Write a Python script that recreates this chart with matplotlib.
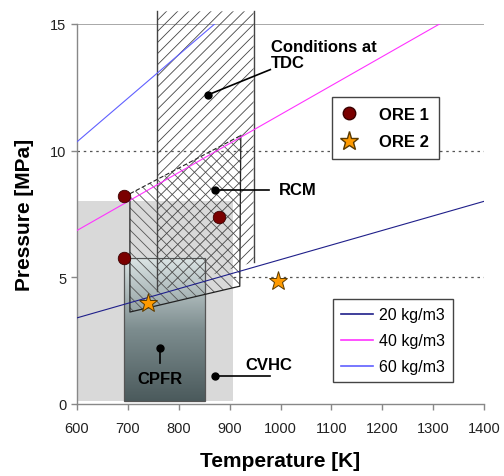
import numpy as np
import matplotlib
matplotlib.use("Agg")
import matplotlib.pyplot as plt
from matplotlib.patches import Polygon, Rectangle
from matplotlib.colors import LinearSegmentedColormap
from matplotlib.lines import Line2D

plt.rcParams['font.family'] = ['Liberation Sans', 'DejaVu Sans']
plt.rcParams['hatch.linewidth'] = 0.6

# density lines (ideal gas, pressure vs temperature)
line_T = [600, 1400]
p_20 = [3.4, 8.0]
p_40 = [6.85, 16.0]
p_60 = [10.35, 24.1]
line_labels = ['20 kg/m3', '40 kg/m3', '60 kg/m3']

# experimental points
ore1_T = [692, 692, 879]
ore1_P = [8.2, 5.75, 7.4]
ore2_T = [739, 995]
ore2_P = [4.0, 4.85]

# facility regions
cvhc_T = [600, 906]
cvhc_P = [0.1, 8.0]
cpfr_T = [692, 851]
cpfr_P = [0.1, 5.75]
rcm_T = [704, 922, 920, 704]
rcm_P = [8.3, 10.6, 4.65, 3.63]
tdc_T = [758, 947, 947, 758]
tdc_P = [15.5, 15.5, 5.6, 4.45]

fig = plt.figure(figsize=(5.04, 4.77), dpi=100)
ax = fig.add_axes([77 / 504, 72 / 477, 407 / 504, 380 / 477])

# CVHC: light gray box
ax.add_patch(Rectangle((cvhc_T[0], cvhc_P[0]), cvhc_T[1] - cvhc_T[0], cvhc_P[1] - cvhc_P[0],
                       facecolor='#d9d9d9', edgecolor='none', zorder=1))

# CPFR: gradient box
cmap = LinearSegmentedColormap.from_list('cpfr', ['#4b5a5c', '#7d8d8f', '#dde6e6'])
grad = np.linspace(0, 1, 256).reshape(-1, 1)
ax.imshow(grad, extent=[cpfr_T[0], cpfr_T[1], cpfr_P[0], cpfr_P[1]], origin='lower',
          cmap=cmap, aspect='auto', zorder=2)
ax.add_patch(Rectangle((cpfr_T[0], cpfr_P[0]), cpfr_T[1] - cpfr_T[0], cpfr_P[1] - cpfr_P[0],
                       facecolor='none', edgecolor='#555555', lw=0.9, zorder=2.1))

# RCM: back-hatched quadrilateral
ax.add_patch(Polygon(list(zip(rcm_T, rcm_P)), closed=True, facecolor='none',
                     edgecolor='#555555', hatch='\\\\\\', lw=0, zorder=3))
ax.plot(rcm_T[:2], rcm_P[:2], color='#222222', lw=0.8, ls=(0, (4, 2)), zorder=3.1)
ax.plot(rcm_T[1:] + rcm_T[:1], rcm_P[1:] + rcm_P[:1], color='#222222', lw=0.9, zorder=3.1)

# conditions at TDC: hatched band
ax.add_patch(Polygon(list(zip(tdc_T, tdc_P)), closed=True, facecolor='none',
                     edgecolor='#444444', hatch='///', lw=0, zorder=3.2, clip_on=False))
ax.plot([tdc_T[0], tdc_T[3]], [tdc_P[0], tdc_P[3]], color='#444444', lw=1.0, zorder=3.3, clip_on=False)
ax.plot([tdc_T[1], tdc_T[2]], [tdc_P[1], tdc_P[2]], color='#444444', lw=1.0, zorder=3.3, clip_on=False)

# density lines
line_colors = ['#1f1f8a', '#ff33ff', '#6060ff']
for p, c, lab in zip([p_20, p_40, p_60], line_colors, line_labels):
    ax.plot(line_T, p, color=c, lw=0.8, zorder=4, label=lab)

# points
ax.plot(ore1_T, ore1_P, 'o', color='#7a0000', mec='#3a0000', mew=0.6, ms=9, zorder=6)
ax.plot(ore2_T, ore2_P, '*', color='#ff9a00', mec='#5a3a00', mew=0.7, ms=14, zorder=6)

# annotations
def label(xd, yd, xe, ye, text, tx, ty, ha='left'):
    ax.plot([xd, xe], [yd, ye], color='black', lw=1.2, zorder=7)
    ax.plot([xd], [yd], 'o', color='black', ms=5, zorder=7)
    ax.text(tx, ty, text, fontsize=12, fontweight='bold', ha=ha, va='center', zorder=7,
            linespacing=1.1)

label(857, 12.2, 980, 13.2, 'Conditions at\nTDC', 982, 13.8)
label(871, 8.45, 978, 8.45, 'RCM', 997, 8.45)
label(763, 2.2, 763, 1.6, 'CPFR', 763, 1.0, ha='center')
label(871, 1.1, 979, 1.1, 'CVHC', 931, 1.55)

# grid lines
ax.axhline(15, color='#999999', lw=1.2, zorder=0.5)
for y in [5, 10]:
    ax.axhline(y, color='#555555', lw=0.9, ls=(0, (2, 3)), zorder=0.5)

ax.set_xlim(600, 1400)
ax.set_ylim(0, 15)
ax.set_xticks(np.arange(600, 1401, 100))
ax.set_yticks([0, 5, 10, 15])
for s in ['top', 'right']:
    ax.spines[s].set_visible(False)
for s in ['left', 'bottom']:
    ax.spines[s].set_color('#888888')
    ax.spines[s].set_linewidth(1.0)
ax.tick_params(colors='#888888', labelcolor='#222222', labelsize=10.5, length=4, width=1.0)
ax.tick_params(axis='x', pad=8)
ax.set_xlabel('Temperature [K]', fontsize=15, fontweight='bold', labelpad=12)
ax.set_ylabel('Pressure [MPa]', fontsize=15, fontweight='bold', labelpad=12)

# legends
h_pts = [Line2D([], [], ls='none', marker='o', color='#7a0000', mec='#3a0000', ms=9),
         Line2D([], [], ls='none', marker='*', color='#ff9a00', mec='#5a3a00', ms=14)]
leg1 = ax.legend(h_pts, ['ORE 1', 'ORE 2'], loc='upper left', bbox_to_anchor=(0.627, 0.808),
                 borderaxespad=0, fancybox=False, edgecolor='#444444', framealpha=1,
                 borderpad=0.6, handlelength=0.8, handletextpad=1.4, labelspacing=0.75,
                 prop={'weight': 'bold', 'size': 12})
leg1.get_frame().set_linewidth(1.0)
leg1.set_zorder(8)
ax.add_artist(leg1)
leg2 = ax.legend(loc='upper left', bbox_to_anchor=(0.629, 0.276), borderaxespad=0,
                 fancybox=False, edgecolor='#444444', framealpha=1, fontsize=11.5,
                 handlelength=2.0, handletextpad=0.4, labelspacing=0.7, borderpad=0.5)
for lh in leg2.get_lines():
    lh.set_linewidth(1.2)
leg2.get_frame().set_linewidth(1.0)
leg2.set_zorder(8)

fig.savefig('out.png', dpi=100)
